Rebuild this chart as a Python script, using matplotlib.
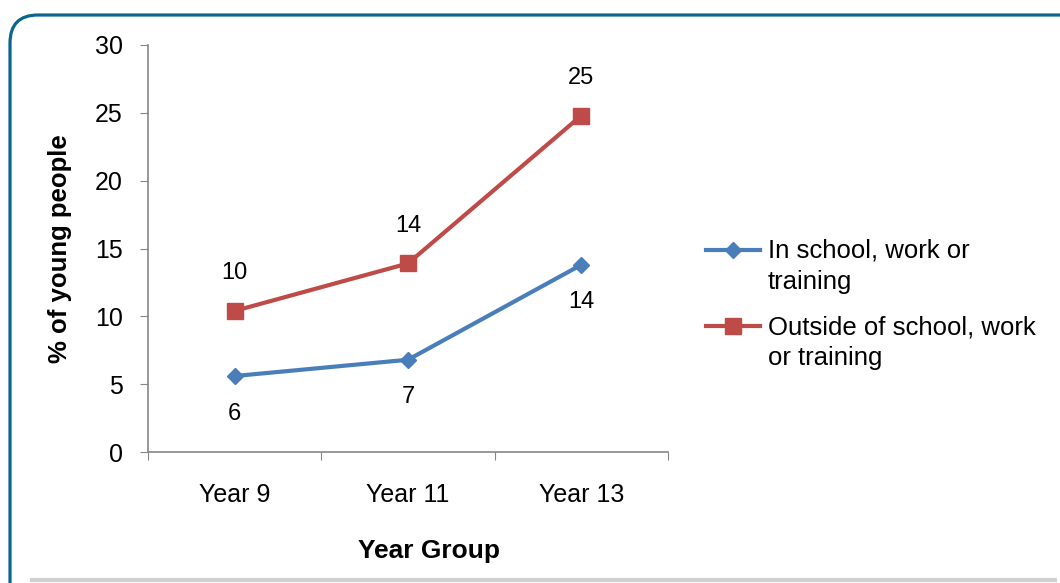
import matplotlib
matplotlib.use("Agg")
import matplotlib.pyplot as plt
from matplotlib.patches import FancyBboxPatch
from matplotlib.lines import Line2D
from matplotlib.transforms import IdentityTransform

plt.rcParams['font.family'] = ['Liberation Sans', 'DejaVu Sans']

years = ["Year 9", "Year 11", "Year 13"]
in_school = [5.6, 6.8, 13.8]
outside = [10.4, 13.9, 24.8]
in_labels = ["6", "7", "14"]
out_labels = ["10", "14", "25"]
series_names = ["In school, work or\ntraining", "Outside of school, work\nor training"]

blue = "#4a7ebb"
red = "#be4b48"
grey = "#868686"

fig = plt.figure(figsize=(10.6, 5.83), dpi=100)

# rounded frame round the whole chart
frame = FancyBboxPatch((10, -30), 1080, 583 - 15 + 30,
                       boxstyle="round,pad=0,rounding_size=28",
                       transform=IdentityTransform(), facecolor="white",
                       edgecolor="#0a668e", linewidth=2.3, zorder=-5)
fig.patches.append(frame)
fig.add_artist(Line2D([0.03, 0.995], [0.006, 0.006], transform=fig.transFigure,
                      color="#d0d0d0", linewidth=3, zorder=-4))

ax = fig.add_axes([148 / 1060, 1 - 452 / 583, 520 / 1060, 407 / 583])
ax.set_facecolor("none")

x = [0.5, 1.5, 2.5]
ax.plot(x, in_school, color=blue, linewidth=3, marker="D", markersize=8.5,
        markeredgecolor=blue, markerfacecolor=blue, zorder=3)
ax.plot(x, outside, color=red, linewidth=3, marker="s", markersize=11.5,
        markeredgecolor=red, markerfacecolor=red, zorder=3)

for xi, v, s in zip(x, in_school, in_labels):
    ax.annotate(s, (xi, v), xytext=(0, -27), textcoords="offset points",
                ha="center", va="center", fontsize=17)
for xi, v, s in zip(x, outside, out_labels):
    ax.annotate(s, (xi, v), xytext=(0, 27), textcoords="offset points",
                ha="center", va="center", fontsize=17)

ax.set_xlim(0, 3)
ax.set_ylim(0, 30)
ax.set_yticks(range(0, 31, 5))
ax.set_xticks([0, 1, 2, 3])
ax.set_xticks(x, minor=True)
ax.set_xticklabels([])
ax.set_xticklabels(years, minor=True)
ax.tick_params(axis="x", which="major", length=6, color=grey, direction="out")
ax.tick_params(axis="x", which="minor", length=0, pad=22, labelsize=18)
ax.tick_params(axis="y", length=6, color=grey, direction="out", pad=12, labelsize=18)

for side in ["top", "right"]:
    ax.spines[side].set_visible(False)
for side in ["left", "bottom"]:
    ax.spines[side].set_color(grey)
    ax.spines[side].set_linewidth(1.2)

ax.set_ylabel("% of young people", fontsize=18.5, fontweight="bold")
ax.set_xlabel("Year Group", fontsize=19, fontweight="bold")
ax.yaxis.set_label_coords(-0.169, 0.5)
ax.xaxis.set_label_coords(0.54, -0.243)
ax.xaxis.label.set_va("center")
ax.yaxis.label.set_va("center")

# legend drawn by hand so the key sits on the first text line
leg_y = [1 - 250 / 583, 1 - 326 / 583]
for y, c, m, ms, name in zip(leg_y, [blue, red], ["D", "s"], [8.5, 11.5], series_names):
    fig.add_artist(Line2D([706 / 1060, 733 / 1060, 760 / 1060], [y, y, y],
                          transform=fig.transFigure, color=c, linewidth=3,
                          marker=m, markersize=ms, markevery=[1]))
    fig.text(768 / 1060, y + 11 / 583, name, fontsize=18.5, ha="left", va="top",
             linespacing=1.35)

fig.savefig("out.png", dpi=100)
